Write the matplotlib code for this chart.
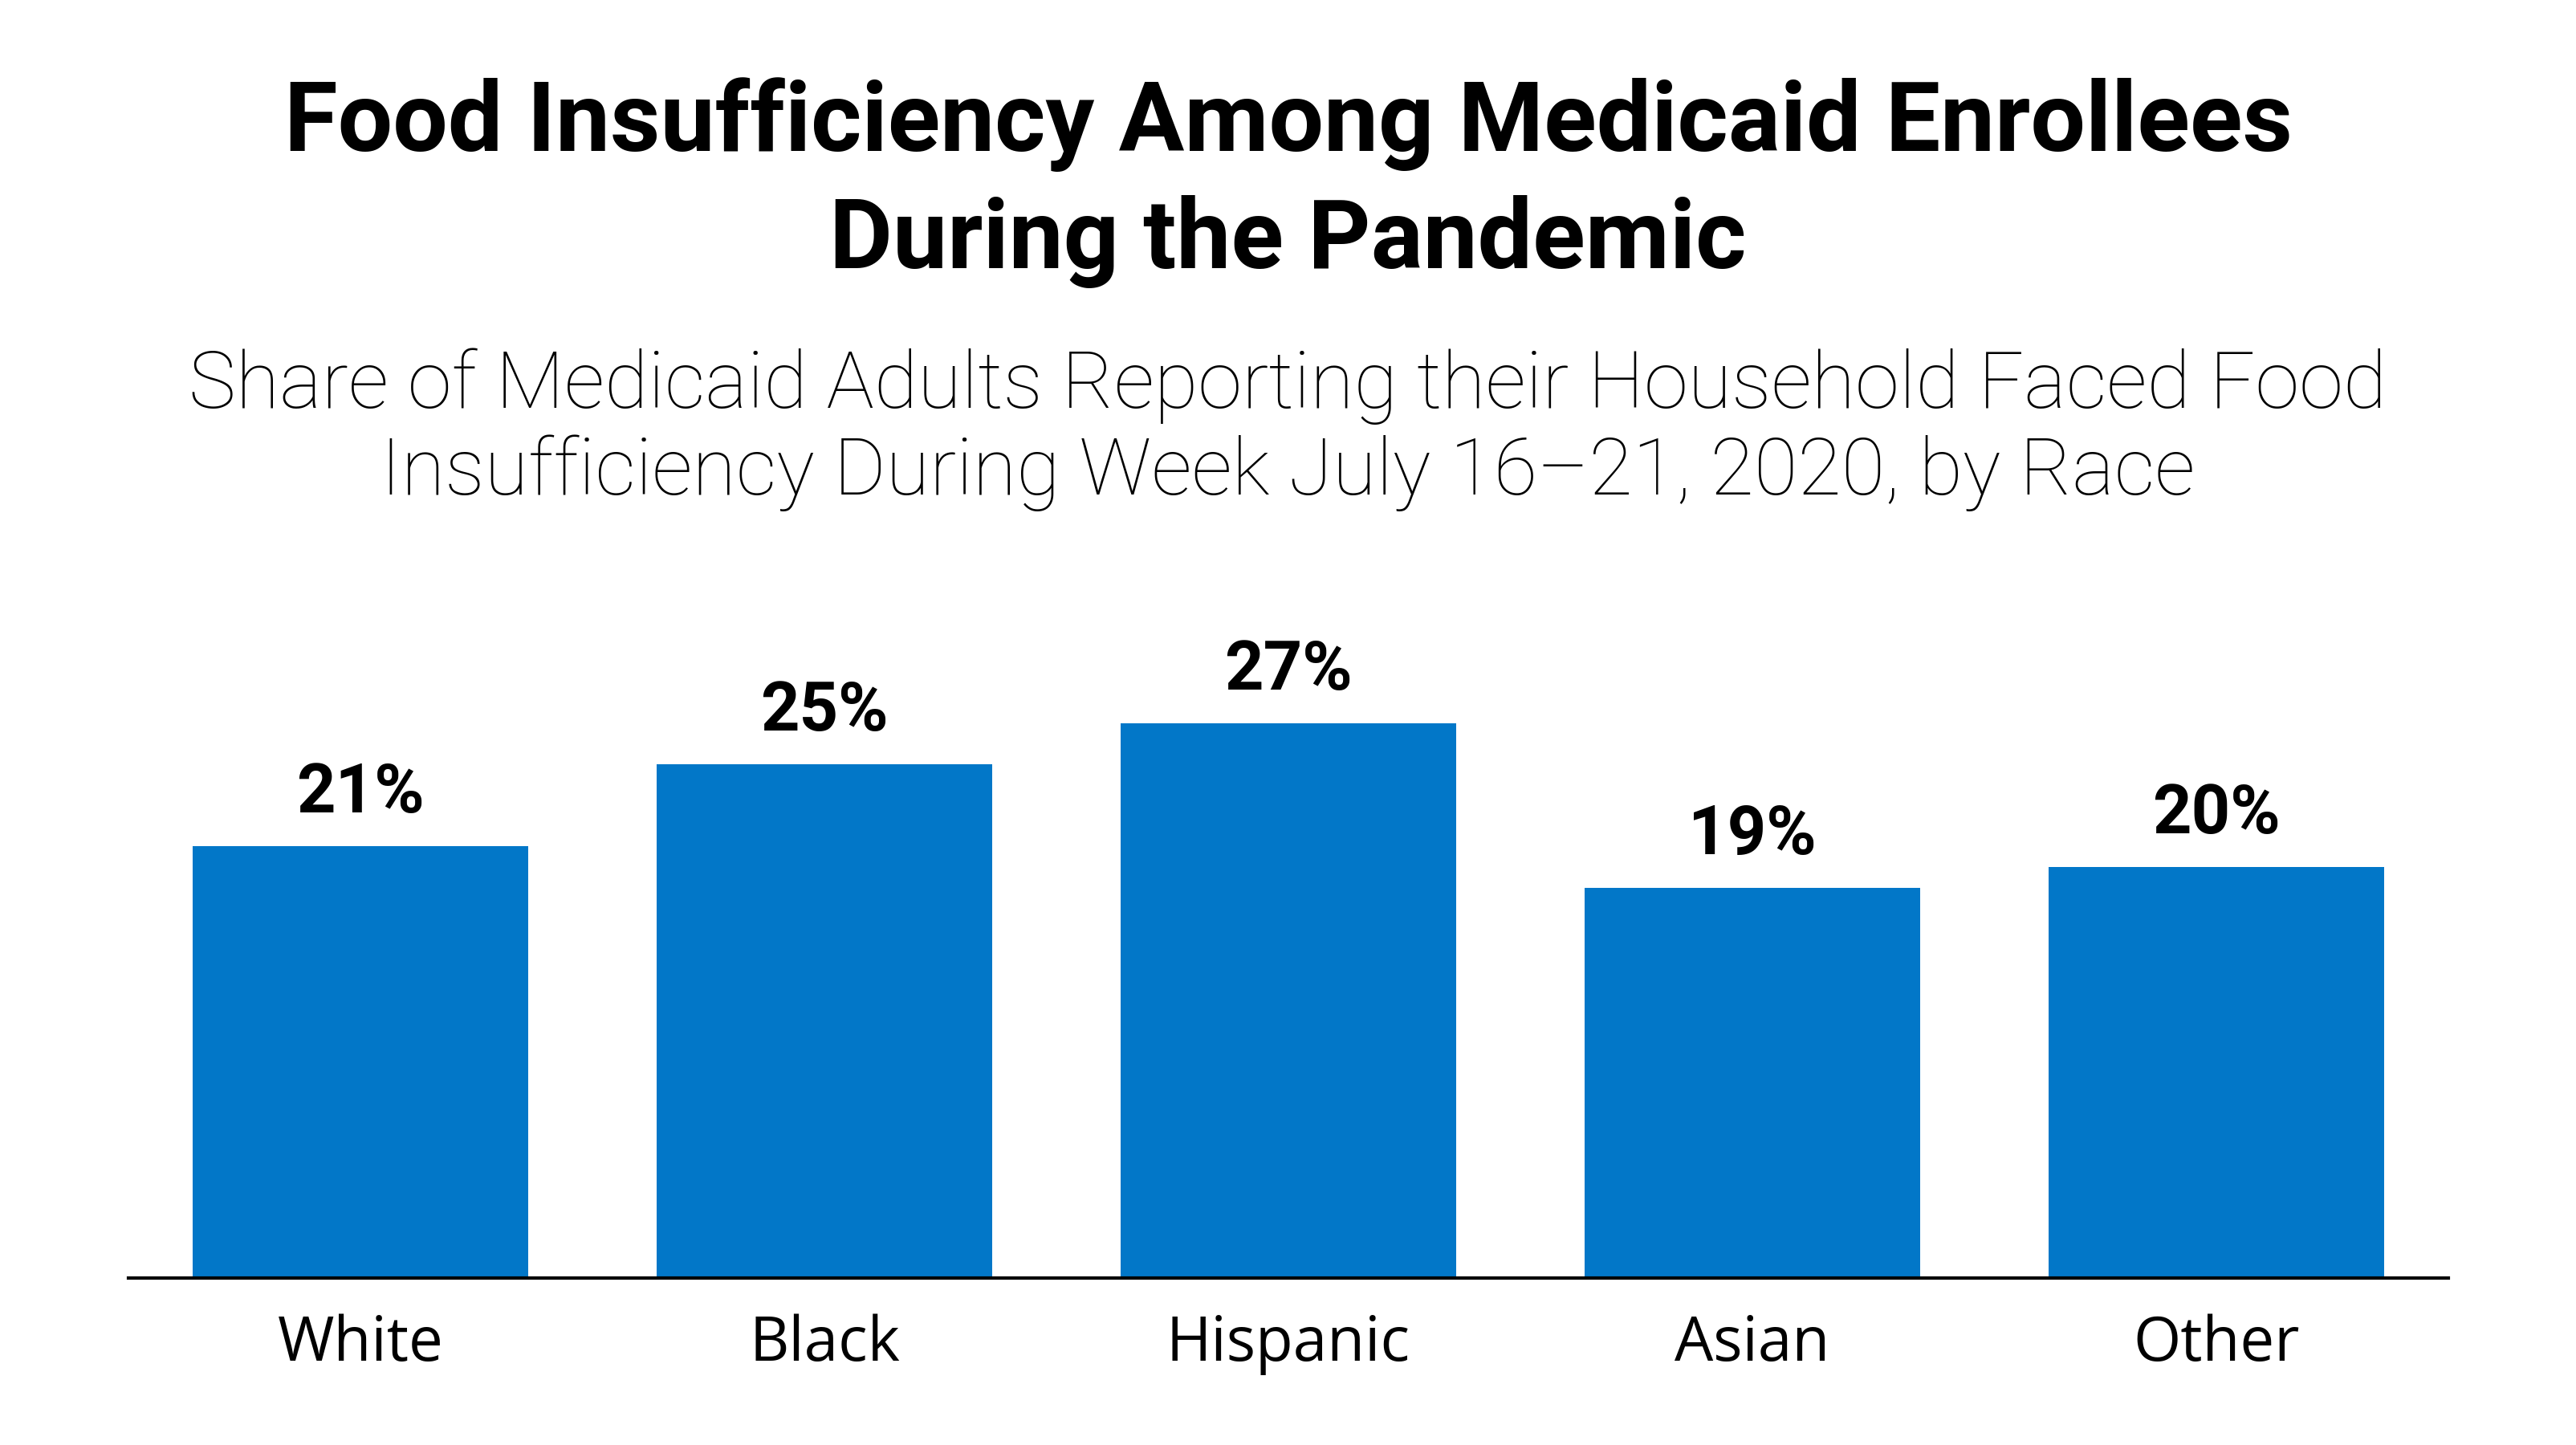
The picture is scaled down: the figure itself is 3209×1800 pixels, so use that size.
import matplotlib
matplotlib.use("Agg")
import matplotlib.pyplot as plt

categories = ["White", "Black", "Hispanic", "Asian", "Other"]
values = [21, 25, 27, 19, 20]
value_labels = ["21%", "25%", "27%", "19%", "20%"]
title_lines = ["Food Insufficiency Among Medicaid Enrollees", "During the Pandemic"]
subtitle_lines = ["Share of Medicaid Adults Reporting their Household Faced Food",
                  "Insufficiency During Week July 16\u201321, 2020, by Race"]

W, H, DPI = 3209, 1800, 200
fig = plt.figure(figsize=(W / DPI, H / DPI), dpi=DPI)
fig.patch.set_facecolor("white")

left, right = 160 / W, 3050 / W
bottom = 1 - 1592 / H
height = 896 / H
ax = fig.add_axes([left, bottom, right - left, height])

bar_color = "#0277C8"
x = list(range(len(categories)))
ax.bar(x, values, width=0.723, color=bar_color, zorder=2)
ax.set_xlim(-0.5, len(categories) - 0.5)
ax.set_ylim(0, 35)

for s in ["top", "left", "right"]:
    ax.spines[s].set_visible(False)
ax.spines["bottom"].set_linewidth(1.5)
ax.spines["bottom"].set_color("black")
ax.spines["bottom"].set_zorder(3)
ax.set_yticks([])
ax.set_xticks([])

px = 72 / DPI
for i, (v, lab) in enumerate(zip(values, value_labels)):
    ax.annotate(lab, xy=(i, v), xytext=(0, 42 * px), textcoords="offset points",
                ha="center", va="baseline", fontsize=30.5, fontweight="bold",
                family=["Roboto", "DejaVu Sans"], color="black")
    ax.annotate(categories[i], xy=(i, 0), xytext=(0, -103 * px), textcoords="offset points",
                ha="center", va="baseline", fontsize=27.5,
                family=["Open Sans", "DejaVu Sans"], color="black")

cx = 0.5
fig.text(cx, 1 - 188 / H, title_lines[0], ha="center", va="baseline", fontsize=43.7,
         fontweight="bold", family=["Roboto", "DejaVu Sans"], color="black")
fig.text(cx, 1 - 334 / H, title_lines[1], ha="center", va="baseline", fontsize=43.7,
         fontweight="bold", family=["Roboto", "DejaVu Sans"], color="black")
fig.text(cx, 1 - 508 / H, subtitle_lines[0], ha="center", va="baseline", fontsize=35.8,
         fontweight="light", family=["Roboto", "DejaVu Sans"], color="black")
fig.text(cx, 1 - 616 / H, subtitle_lines[1], ha="center", va="baseline", fontsize=35.8,
         fontweight="light", family=["Roboto", "DejaVu Sans"], color="black")

fig.savefig("out.png", dpi=DPI, facecolor="white")
